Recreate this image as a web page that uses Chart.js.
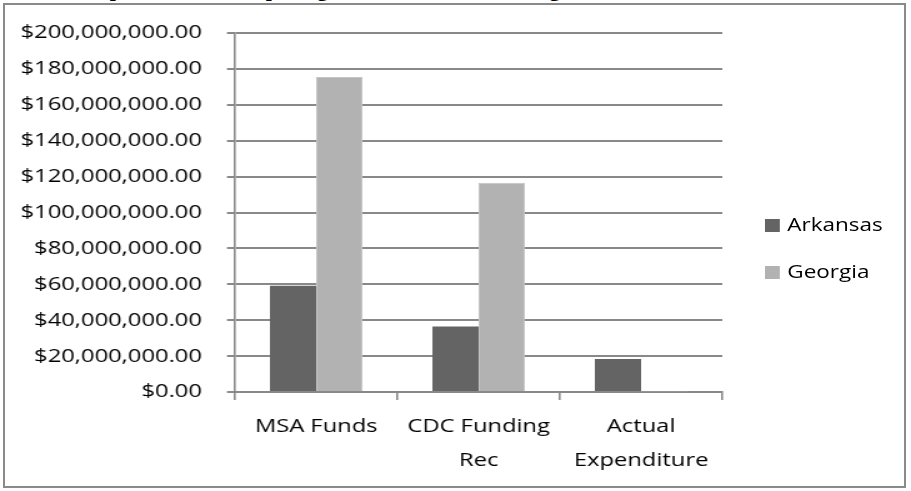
<!DOCTYPE html>
<html>
<head>
<meta charset="utf-8">
<title>MSA Funds vs CDC Funding</title>
<script src="https://cdn.jsdelivr.net/npm/chart.js@4.4.1/dist/chart.umd.min.js"></script>
<style>
    html, body { margin: 0; padding: 0; background: #fff; }
    body { width: 911px; height: 491px; position: relative; overflow: hidden; font-family: 'Open Sans', sans-serif; }
    /* bottom of the document line above the chart, cut off by the crop */
    .doc-line { position: absolute; z-index: 0; left: 84px; top: -23px; height: 24px; line-height: 24px; font-weight: bold; font-size: 22px; font-family: 'Liberation Serif', serif; white-space: nowrap; color: #000; }
    .frame { position: absolute; z-index: 1; left: 3px; top: 3px; width: 899px; height: 481px; border: 2px solid #8a8a8a; background: #fff; }
    /* original chart is stretched sideways, so draw narrow and scale */
    .stretch { position: absolute; z-index: 2; left: 0; top: 0; width: 729px; height: 491px; transform: scaleX(1.2497); transform-origin: 0 0; }
    .chart-box { position: absolute; left: 0; top: 0; width: 729px; height: 491px; }
    .legend-item { position: absolute; left: 612px; height: 24px; line-height: 24px; font-size: 18px; color: #000; white-space: nowrap; }
    .legend-item i { display: inline-block; width: 12px; height: 13px; margin-right: 6px; vertical-align: -1px; }
</style>
</head>
<body>
<div class="doc-line">Expenditures, Comparing MSA and CDC Funding, 2010</div>
<div class="frame"></div>
<div class="stretch">
    <div class="chart-box"><canvas id="funds-chart"></canvas></div>
    <div id="legend"></div>
</div>
<script>
    'use strict';

    // ---- data ----
    const categories = [['MSA Funds'], ['CDC Funding', 'Rec'], ['Actual', 'Expenditure']];
    const seriesNames = ['Arkansas', 'Georgia'];
    const arkansasValues = [59200000, 36500000, 18400000];
    const georgiaValues = [175500000, 116600000, 300000];
    const tickValues = [0, 20000000, 40000000, 60000000, 80000000, 100000000,
                        120000000, 140000000, 160000000, 180000000, 200000000];

    const seriesColors = ['#646464', '#b2b2b2'];
    const lineColor = '#898989';
    const fontSpec = { family: "'Open Sans', sans-serif", size: 19 };

    function money(v) {
        return '$' + Number(v).toLocaleString('en-US', { minimumFractionDigits: 2, maximumFractionDigits: 2 });
    }

    const FundsChart = {
        init: function() {
            this.render(document.getElementById('funds-chart'));
            this.buildLegend(document.getElementById('legend'));
        },

        render: function(canvas) {
            new Chart(canvas, {
                type: 'bar',
                data: {
                    labels: categories,
                    datasets: [
                        { label: seriesNames[0], data: arkansasValues, backgroundColor: seriesColors[0] },
                        { label: seriesNames[1], data: georgiaValues, backgroundColor: seriesColors[1],
                          borderColor: '#c4c4c4', borderWidth: 1 }
                    ]
                },
                options: {
                    responsive: true,
                    maintainAspectRatio: false,
                    animation: false,
                    layout: { padding: { left: 0, right: 151, top: 33, bottom: 0 } },
                    datasets: { bar: { categoryPercentage: 0.569, barPercentage: 1.0 } },
                    plugins: { legend: { display: false }, tooltip: { enabled: false }, title: { display: false } },
                    scales: {
                        x: {
                            afterFit: function(scale) { scale.height = 99; },
                            grid: { display: true, drawOnChartArea: false, drawTicks: true, tickLength: 8,
                                    color: lineColor, lineWidth: 1.6, offset: true },
                            border: { display: true, color: lineColor, width: 2 },
                            ticks: { color: '#000', padding: 10, maxRotation: 0, autoSkip: false,
                                     font: Object.assign({ lineHeight: '34px' }, fontSpec) }
                        },
                        y: {
                            min: 0,
                            max: 200000000,
                            afterFit: function(scale) { scale.width = 188; },
                            afterBuildTicks: function(scale) {
                                scale.ticks = tickValues.map(function(v) { return { value: v }; });
                            },
                            grid: { color: lineColor, lineWidth: 2, drawTicks: true, tickLength: 6.4 },
                            border: { display: true, color: lineColor, width: 1.6 },
                            ticks: { color: '#000', padding: 20, font: fontSpec, callback: money }
                        }
                    }
                }
            });
        },

        buildLegend: function(holder) {
            const centers = [224, 271];
            seriesNames.forEach(function(name, i) {
                const item = document.createElement('div');
                item.className = 'legend-item';
                item.style.top = (centers[i] - 12) + 'px';
                item.innerHTML = '<i style="background:' + seriesColors[i] + '"></i>' + name;
                holder.appendChild(item);
            });
        }
    };

    FundsChart.init();
</script>
</body>
</html>
